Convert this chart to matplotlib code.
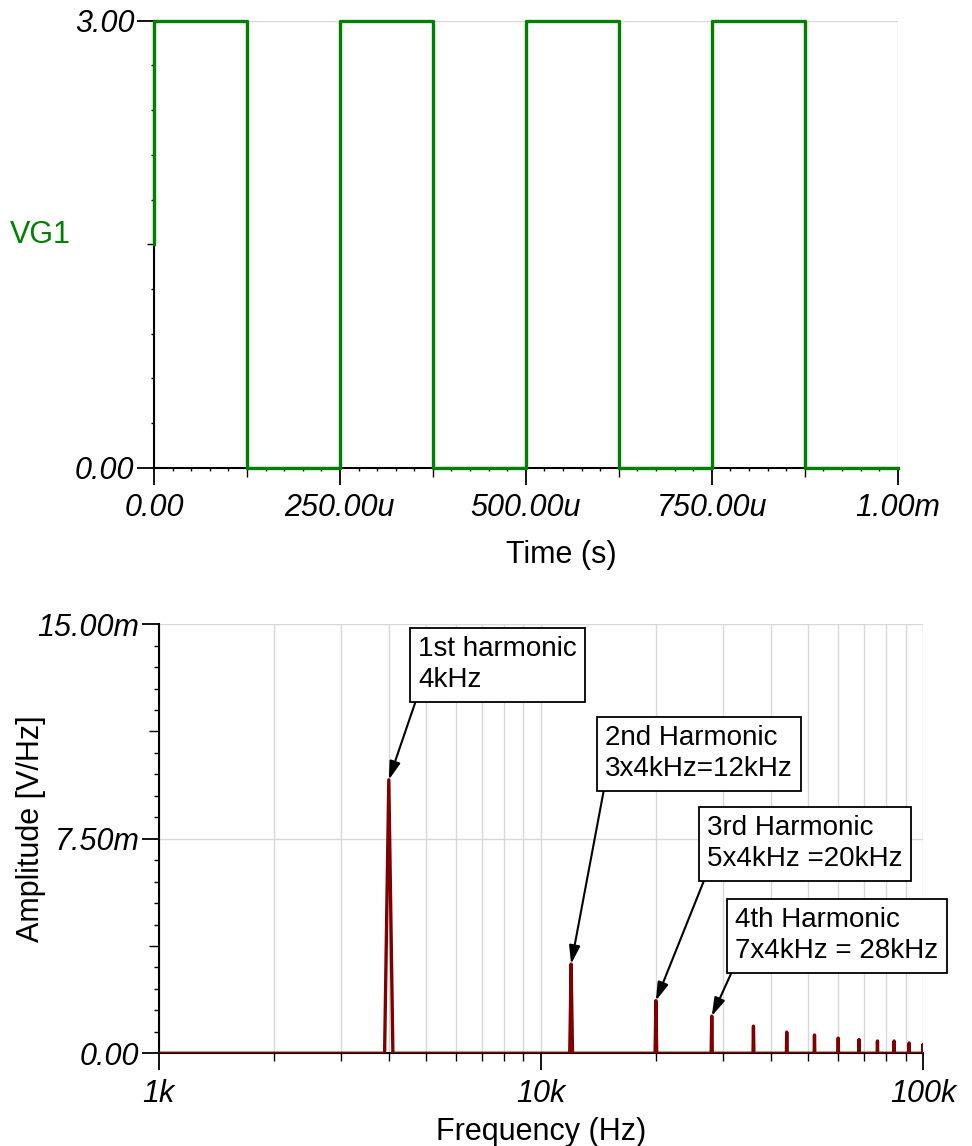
import matplotlib
matplotlib.use("Agg")
import matplotlib.pyplot as plt
from matplotlib.ticker import FixedLocator, NullLocator, NullFormatter

plt.rcParams["font.family"] = ["Liberation Sans", "DejaVu Sans"]

# Square-wave gate drive (time in microseconds, volts)
step_times_us = [0, 0, 125, 250, 375, 500, 625, 750, 875, 1000]
step_levels = [1.5, 3.0, 0.0, 3.0, 0.0, 3.0, 0.0, 3.0, 0.0, 0.0]
time_ticks_us = [0, 250, 500, 750, 1000]
time_tick_labels = ["0.00", "250.00u", "500.00u", "750.00u", "1.00m"]
volt_ticks = [0.0, 3.0]
volt_tick_labels = ["0.00", "3.00"]

# Spectrum: odd harmonics of 4 kHz (amplitude in mV/Hz)
harm_freqs_hz = [4000, 12000, 20000, 28000, 36000, 44000, 52000,
                 60000, 68000, 76000, 84000, 92000, 100000]
harm_amps_mv = [9.56, 3.12, 1.84, 1.30, 0.95, 0.74, 0.64,
                0.53, 0.48, 0.43, 0.43, 0.36, 0.31]
spike_halfwidth_hz = 100
freq_ticks = [1e3, 1e4, 1e5]
freq_tick_labels = ["1k", "10k", "100k"]
amp_ticks_mv = [0.0, 7.5, 15.0]
amp_tick_labels = ["0.00", "7.50m", "15.00m"]

notes = [
    ("1st harmonic\n4kHz", 0, (0.3397, 0.9716)),
    ("2nd Harmonic\n3x4kHz=12kHz", 1, (0.5843, 0.7646)),
    ("3rd Harmonic\n5x4kHz =20kHz", 2, (0.7178, 0.5548)),
    ("4th Harmonic\n7x4kHz = 28kHz", 3, (0.7544, 0.3403)),
]

GREEN = "#008000"
DARK_RED = "#800000"
GRID = "#d8d8d8"
FS = 22

fig = plt.figure(figsize=(9.72, 11.46), dpi=100)


def style_axes(ax):
    for side in ("top", "right"):
        ax.spines[side].set_visible(False)
    for side in ("left", "bottom"):
        ax.spines[side].set_linewidth(1.5)
    ax.set_axisbelow(True)
    ax.grid(True, which="major", color=GRID, lw=1.0)


# ── Time-domain plot ──────────────────────────────────────────────────────────
ax1 = fig.add_axes([0.1584, 0.5919, 0.7652, 0.3900])
style_axes(ax1)
ax1.step(step_times_us, step_levels, where="post", color=GREEN, lw=2.4,
         clip_on=False, zorder=5)
ax1.set_xlim(0, 1000)
ax1.set_ylim(0, 3)
ax1.set_xticks(time_ticks_us, time_tick_labels, fontstyle="italic", fontsize=FS)
ax1.set_yticks(volt_ticks, volt_tick_labels, fontstyle="italic", fontsize=FS)
ax1.xaxis.set_minor_locator(FixedLocator([t for t in range(25, 1000, 25)
                                          if t % 125]))
ax1.yaxis.set_minor_locator(FixedLocator([0.3, 0.6, 0.9, 1.2, 1.8, 2.1,
                                          2.4, 2.7]))
ax1.tick_params(which="major", length=12.5, width=1.3, pad=6)
ax1.tick_params(axis="y", which="major", pad=1.5)
ax1.tick_params(which="minor", length=2.5, width=1.0)

# mid-length ticks at half periods and half scale
sx1 = ax1.secondary_xaxis("bottom")
sx1.set_xticks([125, 375, 625, 875])
sx1.xaxis.set_minor_locator(NullLocator())
sx1.tick_params(length=6.5, width=1.0, labelbottom=False)
sx1.spines["bottom"].set_visible(False)
sy1 = ax1.secondary_yaxis("left")
sy1.set_yticks([1.5])
sy1.yaxis.set_minor_locator(NullLocator())
sy1.tick_params(length=5, width=1.0, labelleft=False)
sy1.spines["left"].set_visible(False)

ax1.set_xlabel("Time (s)", fontsize=FS)
ax1.xaxis.set_label_coords(0.548, -0.162)
ax1.set_ylabel("VG1", fontsize=FS, color=GREEN, rotation=0,
               ha="left", va="center")
ax1.yaxis.set_label_coords(-0.194, 0.52)

# ── Spectrum plot ─────────────────────────────────────────────────────────────
ax2 = fig.add_axes([0.1633, 0.0809, 0.7863, 0.3744])
style_axes(ax2)

spec_f = [freq_ticks[0]]
spec_a = [0.0]
for f, a in zip(harm_freqs_hz, harm_amps_mv):
    spec_f += [f - spike_halfwidth_hz, f, f + spike_halfwidth_hz]
    spec_a += [0.0, a, 0.0]
spec_f.append(freq_ticks[-1])
spec_a.append(0.0)
ax2.plot(spec_f, spec_a, color=DARK_RED, lw=2.4, zorder=5)

ax2.set_xscale("log")
ax2.set_xlim(freq_ticks[0], freq_ticks[-1])
ax2.set_ylim(0, 15)
ax2.set_xticks(freq_ticks, freq_tick_labels, fontstyle="italic", fontsize=FS)
ax2.xaxis.set_minor_locator(FixedLocator(
    [m * d for d in (1e3, 1e4) for m in range(2, 10)]))
ax2.xaxis.set_minor_formatter(NullFormatter())
ax2.grid(True, which="minor", axis="x", color=GRID, lw=1.0)
ax2.set_yticks(amp_ticks_mv, amp_tick_labels, fontstyle="italic", fontsize=FS)
ax2.yaxis.set_minor_locator(FixedLocator(
    [i * 0.75 for i in range(1, 20) if i % 5]))
ax2.tick_params(which="major", length=12.5, width=1.3, pad=6)
ax2.tick_params(axis="y", which="major", pad=1.5)
ax2.tick_params(axis="x", which="minor", length=6, width=1.0)
ax2.tick_params(axis="y", which="minor", length=3.5, width=1.0)

sy2 = ax2.secondary_yaxis("left")
sy2.set_yticks([3.75, 11.25])
sy2.yaxis.set_minor_locator(NullLocator())
sy2.tick_params(length=7, width=1.0, labelleft=False)
sy2.spines["left"].set_visible(False)

ax2.set_xlabel("Frequency (Hz)", fontsize=FS)
ax2.xaxis.set_label_coords(0.5, -0.148)
ax2.set_ylabel("Amplitude [V/Hz]", fontsize=FS)
ax2.yaxis.set_label_coords(-0.148, 0.523)

for text, idx, pos in notes:
    ax2.annotate(
        text, xy=(harm_freqs_hz[idx], harm_amps_mv[idx]),
        xytext=pos, textcoords="axes fraction",
        ha="left", va="top", fontsize=20, linespacing=1.25,
        bbox=dict(boxstyle="square,pad=0.3", fc="white", ec="black", lw=1.3),
        arrowprops=dict(arrowstyle="-|>,head_length=0.5,head_width=0.15",
                        color="black", lw=1.5, mutation_scale=22,
                        relpos=(0.0, 0.0), shrinkA=0, shrinkB=0),
        zorder=6,
    )

fig.savefig("out.png", dpi=100)
